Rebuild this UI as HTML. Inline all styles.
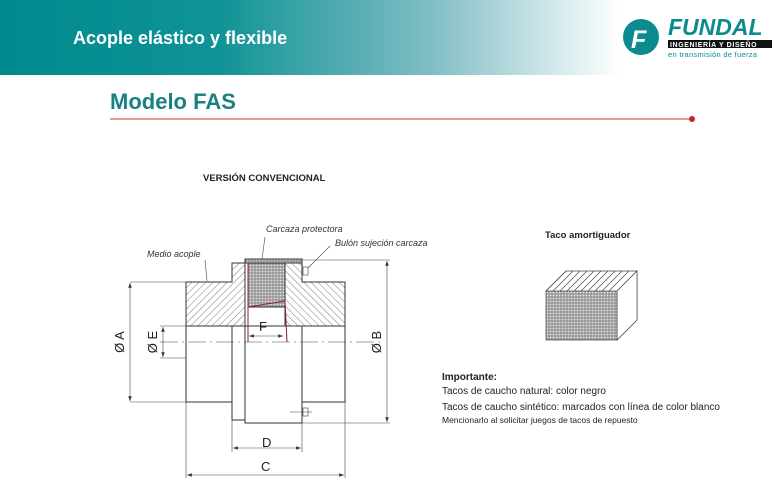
<!DOCTYPE html>
<html><head><meta charset="utf-8"><style>
body{margin:0;width:776px;height:488px;overflow:hidden;background:#fff;font-family:"Liberation Sans",sans-serif}
</style></head><body>
<svg width="776" height="488" viewBox="0 0 776 488" xmlns="http://www.w3.org/2000/svg" font-family="Liberation Sans, sans-serif">
<defs>
<linearGradient id="hg" x1="0" x2="1" y1="0" y2="0">
<stop offset="0" stop-color="#008a8e"/><stop offset="0.28" stop-color="#0f9396"/><stop offset="0.55" stop-color="#7dbcc3"/><stop offset="0.8" stop-color="#ffffff"/>
</linearGradient>
<pattern id="hatch" width="5" height="5" patternUnits="userSpaceOnUse" patternTransform="rotate(45)">
<rect width="5" height="5" fill="#fff"/><line x1="0" y1="0" x2="0" y2="5" stroke="#444" stroke-width="0.7"/></pattern>
<pattern id="hatch2" width="5" height="5" patternUnits="userSpaceOnUse" patternTransform="rotate(-45)">
<rect width="5" height="5" fill="#fff"/><line x1="0" y1="0" x2="0" y2="5" stroke="#444" stroke-width="0.7"/></pattern>
<pattern id="mesh" width="3" height="3" patternUnits="userSpaceOnUse">
<rect width="3" height="3" fill="#999"/><circle cx="1.5" cy="1.5" r="0.9" fill="#e6e6e6"/></pattern>
<marker id="ar" markerWidth="8" markerHeight="6" refX="8" refY="3" orient="auto-start-reverse"><path d="M0,0 L8,3 L0,6z" fill="#333"/></marker>
</defs>
<rect x="0" y="0" width="776" height="75" fill="url(#hg)"/>
<text x="73" y="44" fill="#fff" font-size="18" font-weight="bold">Acople elástico y flexible</text>
<circle cx="641" cy="37" r="18" fill="#0b8b8f"/>
<text x="631" y="48" fill="#fff" font-size="25" font-weight="bold" font-style="italic">F</text>
<text x="668" y="35" fill="#0b8b8f" font-size="23" font-weight="bold" font-style="italic">FUNDAL</text>
<rect x="668" y="40" width="104" height="8" fill="#111"/>
<text x="670" y="47" fill="#fff" font-size="7" font-weight="bold" letter-spacing="0.6">INGENIERÍA Y DISEÑO</text>
<text x="668" y="57" fill="#0b8b8f" font-size="7.5" letter-spacing="0.3">en transmisión de fuerza</text>
<text x="110" y="109" fill="#1a8080" font-size="22" font-weight="bold">Modelo FAS</text>
<line x1="110" y1="119" x2="691" y2="119" stroke="#c33" stroke-width="1"/>
<circle cx="692" cy="119" r="3" fill="#c0282d"/>
<text x="203" y="181" font-size="9.5" font-weight="bold" fill="#222">VERSIÓN CONVENCIONAL</text>

<g stroke="#333" stroke-width="1">
<rect x="186" y="326" width="159" height="76" fill="#fff"/>
<rect x="232" y="326" width="13" height="94" fill="#fff"/>
<rect x="245" y="326" width="57" height="97" fill="#fff"/>
<path d="M186,282 H232 V263 H245 V326 H186 Z" fill="url(#hatch)"/>
<path d="M285,263 H302 V282 H345 V326 H285 Z" fill="url(#hatch2)"/>
<rect x="245" y="259" width="57" height="4" fill="url(#mesh)"/>
<rect x="248" y="263" width="37" height="44" fill="url(#mesh)"/>
<path d="M248,307 L285,301 L287,342 M248,263 V342" fill="none" stroke="#8a2030"/>
</g>
<g stroke="#444" stroke-width="0.6" fill="none">
<line x1="160" y1="342" x2="380" y2="342" stroke-dasharray="18,4,2,4"/>
<line x1="130" y1="282" x2="186" y2="282"/><line x1="130" y1="402" x2="186" y2="402"/>
<line x1="130" y1="283" x2="130" y2="401" marker-start="url(#ar)" marker-end="url(#ar)"/>
<line x1="160" y1="326" x2="186" y2="326"/><line x1="160" y1="358" x2="186" y2="358"/>
<line x1="163" y1="327" x2="163" y2="357" marker-start="url(#ar)" marker-end="url(#ar)"/>
<line x1="302" y1="260" x2="390" y2="260"/><line x1="302" y1="423" x2="390" y2="423"/>
<line x1="387" y1="261" x2="387" y2="422" marker-start="url(#ar)" marker-end="url(#ar)"/>
<line x1="232" y1="420" x2="232" y2="452"/><line x1="302" y1="423" x2="302" y2="452"/>
<line x1="233" y1="448" x2="301" y2="448" marker-start="url(#ar)" marker-end="url(#ar)"/>
<line x1="186" y1="402" x2="186" y2="478"/><line x1="345" y1="402" x2="345" y2="478"/>
<line x1="187" y1="475" x2="344" y2="475" marker-start="url(#ar)" marker-end="url(#ar)"/>
<line x1="249" y1="336" x2="283" y2="336" marker-start="url(#ar)" marker-end="url(#ar)"/>
<line x1="205" y1="260" x2="207" y2="281"/>
<line x1="265" y1="237" x2="262" y2="259"/>
<line x1="330" y1="246" x2="308" y2="268"/>
<rect x="303" y="267" width="5" height="8" fill="#fff"/>
<rect x="303" y="408" width="5" height="8" fill="#fff"/>
<line x1="290" y1="412" x2="312" y2="412"/>
</g>
<g font-size="9" font-style="italic" fill="#333">
<text x="147" y="257">Medio acople</text>
<text x="266" y="232">Carcaza protectora</text>
<text x="335" y="246">Bulón sujeción carcaza</text>
</g>
<g font-size="13" fill="#222">
<text x="259" y="331">F</text>
<text x="262" y="447">D</text>
<text x="261" y="471">C</text>
<text transform="translate(124,342) rotate(-90)" text-anchor="middle">Ø A</text>
<text transform="translate(157,342) rotate(-90)" text-anchor="middle">Ø E</text>
<text transform="translate(381,342) rotate(-90)" text-anchor="middle">Ø B</text>
</g>
<text x="545" y="238" font-size="9.5" font-weight="bold" fill="#222">Taco amortiguador</text>
<g stroke="#444" stroke-width="0.7" fill="#fff">
<path d="M546,291 L566,271 H637 V320 L617,340 Z"/>
<path d="M546,291 L566,271 M553,291 L573,271 M560,291 L580,271 M567,291 L587,271 M574,291 L594,271 M581,291 L601,271 M588,291 L608,271 M595,291 L615,271 M602,291 L622,271 M609,291 L629,271 M617,291 L637,271"/>
<path d="M617,291 L637,271 V320 L617,340 Z"/>
<rect x="546" y="291" width="71" height="49" fill="url(#mesh)"/>
</g>
<text x="442" y="380" font-size="10" font-weight="bold" fill="#222">Importante:</text>
<text x="442" y="394" font-size="10" fill="#222">Tacos de caucho natural: color negro</text>
<text x="442" y="410" font-size="10" fill="#222">Tacos de caucho sintético: marcados con línea de color blanco</text>
<text x="442" y="423" font-size="8.5" fill="#222">Mencionarlo al solicitar juegos de tacos de repuesto</text>
</svg>
</body></html>
